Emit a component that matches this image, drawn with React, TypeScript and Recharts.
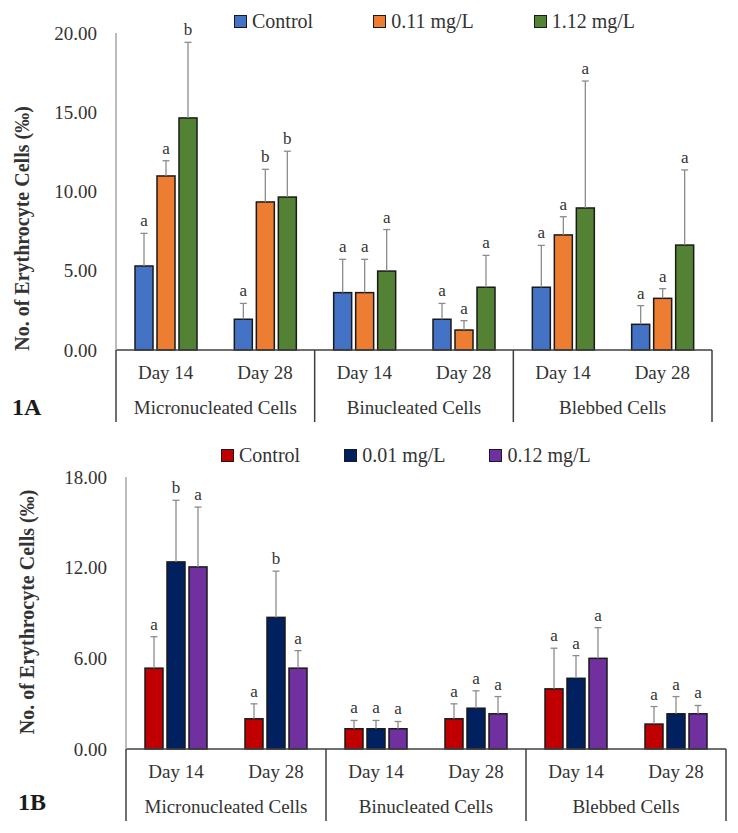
import React from 'react';
import { BarChart, Bar, XAxis, YAxis, Legend } from 'recharts';

// categories (shared by both panels)
const days = ['Day 14', 'Day 28', 'Day 14', 'Day 28', 'Day 14', 'Day 28'];
const cellTypes = [
  'Micronucleated Cells', 'Micronucleated Cells',
  'Binucleated Cells', 'Binucleated Cells',
  'Blebbed Cells', 'Blebbed Cells',
];

// Panel 1A
const controlA = [5.3, 1.94, 3.62, 1.94, 3.96, 1.62];
const controlAErr = [2.06, 1.0, 2.1, 1.0, 2.64, 1.18];
const controlALetters = ['a', 'a', 'a', 'a', 'a', 'a'];
const lowA = [10.98, 9.34, 3.62, 1.26, 7.26, 3.26];
const lowAErr = [0.96, 2.06, 2.1, 0.59, 1.15, 0.61];
const lowALetters = ['a', 'b', 'a', 'a', 'a', 'a'];
const highA = [14.64, 9.65, 4.98, 3.96, 8.96, 6.62];
const highAErr = [4.77, 2.89, 2.62, 2.01, 8.01, 4.74];
const highALetters = ['b', 'b', 'a', 'a', 'a', 'a'];
const ticksA = [0, 5, 10, 15, 20];

// Panel 1B
const controlB = [5.35, 2.0, 1.34, 2.0, 3.98, 1.65];
const controlBErr = [2.08, 0.99, 0.55, 0.99, 2.69, 1.16];
const controlBLetters = ['a', 'a', 'a', 'a', 'a', 'a'];
const lowB = [12.38, 8.71, 1.34, 2.7, 4.68, 2.33];
const lowBErr = [4.08, 3.06, 0.55, 1.15, 1.5, 1.14];
const lowBLetters = ['b', 'b', 'a', 'a', 'a', 'a'];
const highB = [12.05, 5.35, 1.34, 2.33, 6.0, 2.33];
const highBErr = [3.96, 1.16, 0.48, 1.14, 2.03, 0.55];
const highBLetters = ['a', 'a', 'a', 'a', 'a', 'a'];
const ticksB = [0, 6, 12, 18];

const FONT = "'Liberation Serif', 'Times New Roman', serif";
const TEXT = '#333333';
const TICK_GAP = 16;
const BOX_DEPTH = 72;

interface Series {
  key: string;
  name: string;
  color: string;
  values: number[];
  errors: number[];
  letters: string[];
}

const seriesA: Series[] = [
  { key: 'control', name: 'Control', color: '#4472C4', values: controlA, errors: controlAErr, letters: controlALetters },
  { key: 'low', name: '0.11 mg/L', color: '#ED7D31', values: lowA, errors: lowAErr, letters: lowALetters },
  { key: 'high', name: '1.12 mg/L', color: '#548235', values: highA, errors: highAErr, letters: highALetters },
];

const seriesB: Series[] = [
  { key: 'control', name: 'Control', color: '#C00000', values: controlB, errors: controlBErr, letters: controlBLetters },
  { key: 'low', name: '0.01 mg/L', color: '#002060', values: lowB, errors: lowBErr, letters: lowBLetters },
  { key: 'high', name: '0.12 mg/L', color: '#7030A0', values: highB, errors: highBErr, letters: highBLetters },
];

// bar + upward error whisker + significance letter
const makeShape = (s: Series) => (props: any) => {
  const { x, y, width, height, index } = props;
  const v = s.values[index];
  const unit = v > 0 ? height / v : 0;
  const top = y - s.errors[index] * unit;
  const cx = x + width / 2;
  return (
    <g>
      <rect x={x} y={y} width={width} height={height} fill={s.color} stroke="#1a1a1a" strokeWidth={1.5} />
      <line x1={cx} x2={cx} y1={y} y2={top} stroke="#8c8c8c" strokeWidth={1.3} />
      <line x1={cx - 3.5} x2={cx + 3.5} y1={top} y2={top} stroke="#8c8c8c" strokeWidth={1.3} />
      <text x={cx} y={top - 7} textAnchor="middle" fontSize={17} fill={TEXT} fontFamily={FONT}>
        {s.letters[index]}
      </text>
    </g>
  );
};

// day tick, plus the box lines separating the cell groups
function DayTick(props: any) {
  const { x, y, payload, index } = props;
  const half = payload.offset ?? 0;
  const y0 = y - TICK_GAP;
  return (
    <g>
      <text x={x} y={y} dy="0.71em" textAnchor="middle" fontSize={19} fill={TEXT} fontFamily={FONT}>
        {payload.value}
      </text>
      {index % 2 === 0 && (
        <line x1={x - half} x2={x - half} y1={y0} y2={y0 + BOX_DEPTH} stroke="#404040" strokeWidth={1.5} />
      )}
      {index === days.length - 1 && (
        <line x1={x + half} x2={x + half} y1={y0} y2={y0 + BOX_DEPTH} stroke="#404040" strokeWidth={1.5} />
      )}
    </g>
  );
}

function CellTick(props: any) {
  const { x, y, payload, index } = props;
  if (index % 2 !== 0) return null;
  const half = payload.offset ?? 0;
  return (
    <text x={x + half} y={y} dy="0.71em" textAnchor="middle" fontSize={19} fill={TEXT} fontFamily={FONT}>
      {payload.value}
    </text>
  );
}

interface PanelProps {
  series: Series[];
  ticks: number[];
  height: number;
  top: number;
  margin: { top: number; right: number; bottom: number; left: number };
  yWidth: number;
  titleX: number;
  titleShift: number;
  panel: string;
  panelX: number;
  panelDy: number;
  legendTop: number;
  legendLeft: number;
  legendGap: number;
}

function Panel(p: PanelProps) {
  const data = days.map((d, i) => {
    const row: Record<string, string | number> = { day: d, cell: cellTypes[i] };
    p.series.forEach((s) => { row[s.key] = s.values[i]; });
    return row;
  });

  const renderLegend = () => (
    <div style={{ display: 'flex', alignItems: 'center', gap: p.legendGap, paddingLeft: p.legendLeft, height: 26 }}>
      {p.series.map((s) => (
        <div key={s.key} style={{ display: 'flex', alignItems: 'center', gap: 5 }}>
          <span style={{ width: 11, height: 11, background: s.color, border: '1px solid #1a1a1a', display: 'inline-block' }} />
          <span style={{ fontSize: 20, color: TEXT, fontFamily: FONT, lineHeight: '26px' }}>{s.name}</span>
        </div>
      ))}
    </div>
  );

  const renderAxisLabel = (lp: any) => {
    const vb = lp.viewBox || { x: 0, y: 0, width: 0, height: 0 };
    const cx = vb.x + p.titleX;
    const cy = vb.y + vb.height / 2 + p.titleShift;
    return (
      <g>
        <text
          x={cx}
          y={cy}
          transform={`rotate(-90, ${cx}, ${cy})`}
          textAnchor="middle"
          dominantBaseline="central"
          fontSize={20}
          fontWeight="bold"
          fill={TEXT}
          fontFamily={FONT}
        >
          No. of Erythrocyte Cells (‰)
        </text>
        <text x={vb.x + p.panelX} y={vb.y + vb.height + p.panelDy} fontSize={24} fontWeight="bold" fill="#1a1a1a" fontFamily={FONT}>
          {p.panel}
        </text>
      </g>
    );
  };

  const yMax = p.ticks[p.ticks.length - 1];

  return (
    <div style={{ position: 'absolute', left: 0, top: p.top }}>
      <BarChart width={738} height={p.height} data={data} margin={p.margin} barSize={18} barGap={4}>
        <XAxis
          dataKey="day"
          height={35}
          tickLine={false}
          tickSize={0}
          tickMargin={TICK_GAP}
          axisLine={{ stroke: '#404040', strokeWidth: 1.5 }}
          tick={<DayTick />}
          interval={0}
        />
        <XAxis
          dataKey="cell"
          xAxisId="cells"
          height={35}
          tickLine={false}
          tickSize={0}
          tickMargin={TICK_GAP}
          axisLine={false}
          tick={<CellTick />}
          interval={0}
        />
        <YAxis
          domain={[0, yMax]}
          ticks={p.ticks}
          width={p.yWidth}
          tickFormatter={(v: number) => v.toFixed(2)}
          tickLine={false}
          tickSize={0}
          tickMargin={19}
          axisLine={{ stroke: '#a6a6a6', strokeWidth: 1.5 }}
          tick={{ fontSize: 19, fill: TEXT, fontFamily: FONT }}
          label={renderAxisLabel}
        />
        <Legend
          layout="horizontal"
          verticalAlign="middle"
          align="center"
          wrapperStyle={{ top: p.legendTop, left: 0, width: 738 }}
          content={renderLegend}
        />
        {p.series.map((s) => (
          <Bar
            key={s.key}
            dataKey={s.key}
            name={s.name}
            fill={s.color}
            shape={makeShape(s)}
            isAnimationActive={false}
          />
        ))}
      </BarChart>
    </div>
  );
}

export default function App() {
  return (
    <div style={{ position: 'absolute', left: 0, top: 0, width: 738, height: 833, background: '#fff', fontFamily: FONT }}>
      <Panel
        series={seriesA}
        ticks={ticksA}
        height={424}
        top={0}
        margin={{ top: 33, right: 26, bottom: 4, left: 0 }}
        yWidth={116}
        titleX={22}
        titleShift={37}
        panel="1A"
        panelX={12}
        panelDy={65}
        legendTop={8}
        legendLeft={234}
        legendGap={60}
      />
      <Panel
        series={seriesB}
        ticks={ticksB}
        height={413}
        top={420}
        margin={{ top: 57, right: 12, bottom: 14, left: 0 }}
        yWidth={126}
        titleX={27}
        titleShift={-1}
        panel="1B"
        panelX={18}
        panelDy={61}
        legendTop={22}
        legendLeft={221}
        legendGap={44}
      />
    </div>
  );
}
